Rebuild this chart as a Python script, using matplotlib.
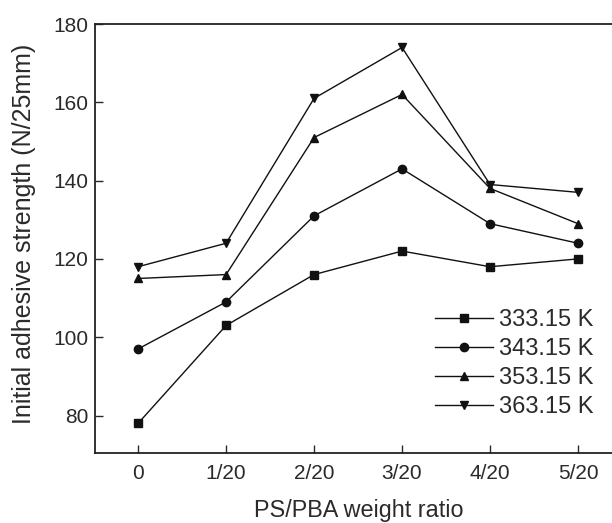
import matplotlib
matplotlib.use("Agg")
import matplotlib.pyplot as plt

categories = ["0", "1/20", "2/20", "3/20", "4/20", "5/20"]
series_labels = ["333.15 K", "343.15 K", "353.15 K", "363.15 K"]
s333 = [78, 103, 116, 122, 118, 120]
s343 = [97, 109, 131, 143, 129, 124]
s353 = [115, 116, 151, 162, 138, 129]
s363 = [118, 124, 161, 174, 139, 137]
y_ticks = [80, 100, 120, 140, 160, 180]

plt.rcParams['font.family'] = ['Liberation Sans', 'DejaVu Sans']
txt = '#2a2a2a'

fig = plt.figure(figsize=(6.12, 5.23), dpi=100)
ax = fig.add_axes([95/612, 1-452.7/523, 527/612, (452.7-24)/523])

x = list(range(len(categories)))
markers = ['s', 'o', '^', 'v']
for vals, lab, m in zip([s333, s343, s353, s363], series_labels, markers):
    ax.plot(x, vals, color='#111111', lw=1.0, marker=m, markersize=6,
            markerfacecolor='#111111', markeredgecolor='#111111', label=lab)

ax.set_xlim(-0.49, 5.5)
ax.set_ylim(70.5, 180)
ax.set_xticks(x)
ax.set_xticklabels(categories)
ax.set_yticks(y_ticks)
ax.tick_params(direction='in', length=6, width=1.0, labelsize=15, colors=txt)
ax.tick_params(axis='y', pad=5)
ax.tick_params(axis='x', pad=8)
for sp in ax.spines.values():
    sp.set_linewidth(1.3)
    sp.set_color('#222222')

ax.set_xlabel("PS/PBA weight ratio", fontsize=16.8, color=txt)
ax.xaxis.set_label_coords(0.5, -0.108)
ax.set_ylabel("Initial adhesive strength (N/25mm)", fontsize=18, color=txt)
ax.yaxis.set_label_coords(-0.112, 0.51)

leg = ax.legend(loc='upper left', bbox_to_anchor=(0.645, 0.335), frameon=False,
                fontsize=17, handlelength=2.45, handletextpad=0.26, labelspacing=0.3,
                borderaxespad=0, borderpad=0)
for t in leg.get_texts():
    t.set_color(txt)

fig.savefig("out.png", dpi=100)
